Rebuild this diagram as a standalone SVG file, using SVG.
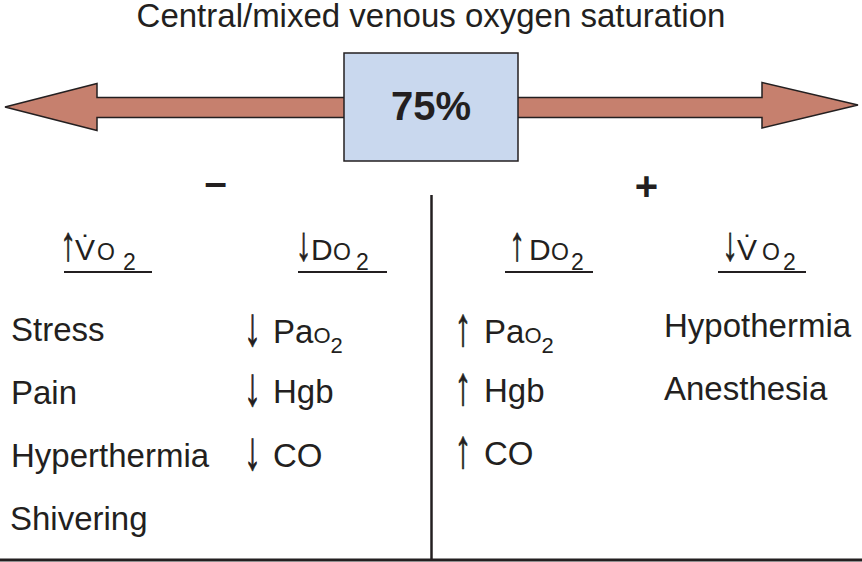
<svg xmlns="http://www.w3.org/2000/svg" width="862" height="562" viewBox="0 0 862 562">
<style>
text{font-family:"Liberation Sans",Arial,"DejaVu Sans",sans-serif;fill:#231f20}
.t{font-size:33px}
.h{font-size:30px}
.s{font-size:23px}
.sb{font-size:22px}
.ar{font-size:32px;text-anchor:middle;stroke:#231f20;stroke-width:0.5}
.arr{fill:#c6806e;stroke:#231f20;stroke-width:1.5;stroke-linejoin:miter}
.ln{stroke:#231f20;fill:none}
</style>
<rect width="862" height="562" fill="#ffffff"/>
<text id="title" x="431" y="27" text-anchor="middle" style="font-size:33px">Central/mixed venous oxygen saturation</text>
<g id="connectors">
<polygon class="arr" points="5,107 97,83.5 97,97.5 350,97.5 350,117.5 97,117.5 97,130.5"/>
<polygon class="arr" points="510,97.5 762,97.5 762,82.5 858,105 762,128 762,117.5 510,117.5"/>
</g>
<g id="box">
<rect x="344" y="53" width="174" height="108" fill="#c9d8ee" stroke="#231f20" stroke-width="1.5"/>
<text x="431" y="120" text-anchor="middle" style="font-size:40px;font-weight:bold">75%</text>
</g>
<g id="signs">
<text x="215.5" y="196" text-anchor="middle" style="font-size:40px;font-weight:bold">–</text>
<text x="646.5" y="200" text-anchor="middle" style="font-size:40px;font-weight:bold">+</text>
</g>
<g id="dividers">
<line class="ln" x1="431.5" y1="195" x2="431.5" y2="560" stroke-width="2.5"/>
<line class="ln" x1="0" y1="560" x2="862" y2="560" stroke-width="3"/>
</g>
<g id="hdr-vo2-up">
<text class="ar" transform="translate(68,260) scale(1.05,1.6)" style="font-size:30px">↑</text>
<text class="h" y="260"><tspan x="75">V&#x307;</tspan><tspan class="s" x="97">O</tspan><tspan class="s" x="123" dy="10">2</tspan></text>
<line class="ln" x1="64" y1="272" x2="152" y2="272" stroke-width="2"/>
</g>
<g id="hdr-do2-down">
<text class="ar" transform="translate(303.5,260) scale(1.05,1.6)" style="font-size:30px">↓</text>
<text class="h" y="260"><tspan x="311">D</tspan><tspan class="s" x="333">O</tspan><tspan class="s" x="356" dy="10">2</tspan></text>
<line class="ln" x1="298" y1="272" x2="387" y2="272" stroke-width="2"/>
</g>
<g id="hdr-do2-up">
<text class="ar" transform="translate(517,260) scale(1.05,1.6)" style="font-size:30px">↑</text>
<text class="h" y="260"><tspan x="529">D</tspan><tspan class="s" x="551">O</tspan><tspan class="s" x="571" dy="10">2</tspan></text>
<line class="ln" x1="505" y1="272" x2="593" y2="272" stroke-width="2"/>
</g>
<g id="hdr-vo2-down">
<text class="ar" transform="translate(730,260) scale(1.05,1.6)" style="font-size:30px">↓</text>
<text class="h" y="260"><tspan x="737">V&#x307;</tspan><tspan class="s" x="762">O</tspan><tspan class="s" x="783" dy="10">2</tspan></text>
<line class="ln" x1="718" y1="272" x2="806" y2="272" stroke-width="2"/>
</g>
<g id="col-vo2-up">
<text class="t" x="11" y="341">Stress</text>
<text class="t" x="11" y="404">Pain</text>
<text class="t" x="11" y="467">Hyperthermia</text>
<text class="t" x="10" y="530">Shivering</text>
</g>
<g id="col-do2-down">
<text class="ar" transform="translate(252.5,345) scale(1.05,1.7)">↓</text>
<text class="t" x="273" y="343">Pa<tspan class="sb">O</tspan><tspan class="sb" dy="10">2</tspan></text>
<text class="ar" transform="translate(252.5,405) scale(1.05,1.7)">↓</text>
<text class="t" x="273" y="403">Hgb</text>
<text class="ar" transform="translate(252.5,469) scale(1.05,1.7)">↓</text>
<text class="t" x="273" y="467">CO</text>
</g>
<g id="col-do2-up">
<text class="ar" transform="translate(463,345) scale(1.05,1.7)">↑</text>
<text class="t" x="484" y="343">Pa<tspan class="sb">O</tspan><tspan class="sb" dy="10">2</tspan></text>
<text class="ar" transform="translate(463,404) scale(1.05,1.7)">↑</text>
<text class="t" x="484" y="402">Hgb</text>
<text class="ar" transform="translate(463,467) scale(1.05,1.7)">↑</text>
<text class="t" x="484" y="465">CO</text>
</g>
<g id="col-vo2-down">
<text class="t" x="664" y="337">Hypothermia</text>
<text class="t" x="664" y="400">Anesthesia</text>
</g>
</svg>
